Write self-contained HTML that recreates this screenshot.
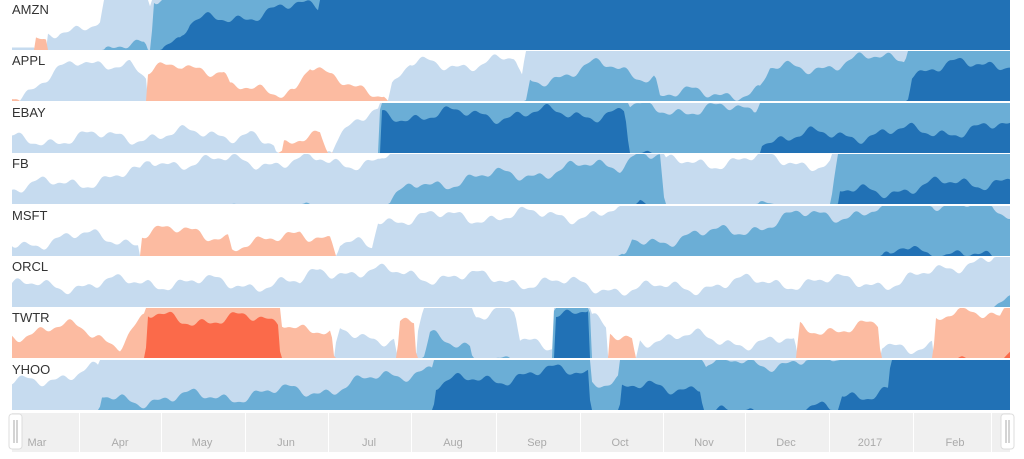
<!DOCTYPE html>
<html><head><meta charset="utf-8"><style>
html,body{margin:0;padding:0;background:#fff;}
svg{display:block;font-family:"Liberation Sans",sans-serif;}
</style></head><body>
<svg id="s" width="1024" height="459" viewBox="0 0 1024 459" xmlns="http://www.w3.org/2000/svg">
<rect x="12" y="413" width="998" height="39" fill="#f0f0f0"/>
<g stroke="#fff" stroke-width="1">
<line x1="79.5" y1="413" x2="79.5" y2="452"/><line x1="161.5" y1="413" x2="161.5" y2="452"/>
<line x1="245.5" y1="413" x2="245.5" y2="452"/><line x1="328.5" y1="413" x2="328.5" y2="452"/>
<line x1="411.5" y1="413" x2="411.5" y2="452"/><line x1="496.5" y1="413" x2="496.5" y2="452"/>
<line x1="580.5" y1="413" x2="580.5" y2="452"/><line x1="663.5" y1="413" x2="663.5" y2="452"/>
<line x1="745.5" y1="413" x2="745.5" y2="452"/><line x1="829.5" y1="413" x2="829.5" y2="452"/>
<line x1="913.5" y1="413" x2="913.5" y2="452"/><line x1="991.5" y1="413" x2="991.5" y2="452"/>
</g>
<g fill="#aaa" font-size="11" text-anchor="middle">
<text x="37" y="446">Mar</text><text x="120" y="446">Apr</text><text x="202" y="446">May</text>
<text x="286" y="446">Jun</text><text x="369" y="446">Jul</text><text x="453" y="446">Aug</text>
<text x="537" y="446">Sep</text><text x="620" y="446">Oct</text><text x="704" y="446">Nov</text>
<text x="786" y="446">Dec</text><text x="870" y="446">2017</text><text x="955" y="446">Feb</text>
</g>
<g id="rows"></g>
<rect x="9" y="414" width="13" height="35" rx="3" fill="#fff" stroke="#ddd"/>
<line x1="14" y1="420" x2="14" y2="443" stroke="#aaa"/><line x1="17" y1="420" x2="17" y2="443" stroke="#aaa"/>
<rect x="1001" y="414" width="13" height="35" rx="3" fill="#fff" stroke="#ddd"/>
<line x1="1006" y1="420" x2="1006" y2="443" stroke="#aaa"/><line x1="1009" y1="420" x2="1009" y2="443" stroke="#aaa"/>
</svg>
<script>
var rows=[
["AMZN",[[12,0.05],[34,0.05],[36,-0.15],[46,-0.15],[48,0.3],[60,0.45],[100,0.5],[104,0.85],[130,1.1],[145,1.2],[151,0.9],[153,2.1],[180,2.2],[190,2.5],[215,2.6],[260,2.75],[318,2.9],[324,3.2],[1010,3.2]]],
["APPL",[[12,0.1],[30,0.2],[55,0.5],[80,0.8],[110,0.8],[130,0.7],[146,0.4],[148,-0.5],[180,-0.8],[200,-0.7],[225,-0.5],[230,-0.2],[295,-0.25],[310,-0.7],[330,-0.4],[385,-0.2],[392,0.3],[410,0.7],[515,0.8],[522,0.4],[530,1.4],[600,1.7],[655,1.5],[660,1.1],[760,1.2],[770,1.6],[905,1.9],[912,2.6],[1010,2.8]]],
["EBAY",[[12,0.25],[150,0.35],[250,0.4],[300,-0.3],[320,-0.5],[335,0.3],[360,0.6],[378,0.8],[382,2.75],[625,2.8],[630,1.9],[755,1.85],[762,2.3],[1010,2.5]]],
["FB",[[12,0.3],[100,0.5],[140,0.6],[150,0.85],[320,0.85],[330,0.8],[380,0.9],[420,1.4],[520,1.6],[620,1.8],[640,2.1],[660,1.9],[665,0.8],[760,0.9],[830,0.8],[840,2.2],[1010,2.5]]],
["MSFT",[[12,0.25],[100,0.4],[138,0.3],[142,-0.45],[200,-0.5],[228,-0.4],[232,-0.15],[260,-0.2],[300,-0.55],[330,-0.3],[340,0.2],[372,0.2],[378,0.75],[625,0.85],[632,1.3],[700,1.4],[760,1.6],[800,1.8],[890,1.9],[905,2.2],[1010,1.85]]],
["ORCL",[[12,0.4],[150,0.5],[300,0.45],[320,0.75],[500,0.55],[640,0.35],[760,0.5],[900,0.5],[940,0.7],[980,1.0],[1010,1.05]]],
["TWTR",[[12,-0.5],[80,-0.6],[120,-0.3],[145,-0.8],[148,-1.8],[278,-1.75],[282,-0.8],[330,-0.4],[340,0.5],[395,0.4],[400,-0.7],[414,-0.7],[418,0.5],[430,1.4],[470,1.3],[475,0.9],[515,0.9],[520,0.3],[552,0.3],[555,2.95],[588,2.95],[592,0.8],[606,0.5],[610,-0.4],[632,-0.4],[640,0.4],[700,0.4],[760,0.3],[795,0.3],[800,-0.6],[878,-0.6],[882,0.2],[932,0.3],[936,-0.8],[1000,-0.9],[1010,-1.3]]],
["YHOO",[[12,0.5],[60,0.7],[98,0.8],[102,1.2],[200,1.25],[320,1.4],[400,1.7],[432,1.9],[436,2.5],[520,2.7],[588,2.8],[592,1.6],[618,1.6],[622,2.4],[700,2.5],[705,1.9],[838,2.0],[842,2.3],[888,2.4],[892,3.2],[1010,3.2]]]
];
var pos=["#c6dbef","#6baed6","#2171b5"],neg=["#fcbba1","#fb6a4a","#cb181d"];
var g=document.getElementById("rows"),out="";
function interp(p,x){for(var i=1;i<p.length;i++){if(x<=p[i][0]){var a=p[i-1],b=p[i];var t=(x-a[0])/((b[0]-a[0])||1);return a[1]+(b[1]-a[1])*t;}}return p[p.length-1][1];}
function noise(x,s){return 0.1*Math.sin(x*0.07+s)+0.07*Math.sin(x*0.19+s*2.3)+0.03*Math.sin(x*0.43+s*0.7);}
rows.forEach(function(r,i){
 var top=Math.round(i*51.4),h=50,bot=top+h;
 var vals=[];
 for(var x=12;x<=1010;x+=2){var v=interp(r[1],x);var n=noise(x,i*3.7);if(Math.abs(v)<3&&Math.abs(v)>0.05)v+=(v>=0?1:-1)*n;vals.push([x,v]);}
 for(var k=0;k<3;k++){
  ["p","n"].forEach(function(sg){
   var d="M12,"+bot;
   vals.forEach(function(q){var v=sg=="p"?q[1]:-q[1];var f=Math.max(0,Math.min(1,v-k));d+="L"+q[0]+","+(bot-f*h).toFixed(1);});
   d+="L1010,"+bot+"Z";
   out+='<path d="'+d+'" fill="'+(sg=="p"?pos[k]:neg[k])+'"/>';
  });
 }
 out+='<text x="12" y="'+(top+14)+'" font-size="13" fill="#333">'+r[0]+'</text>';
});
g.innerHTML=out;
</script>
</body></html>
